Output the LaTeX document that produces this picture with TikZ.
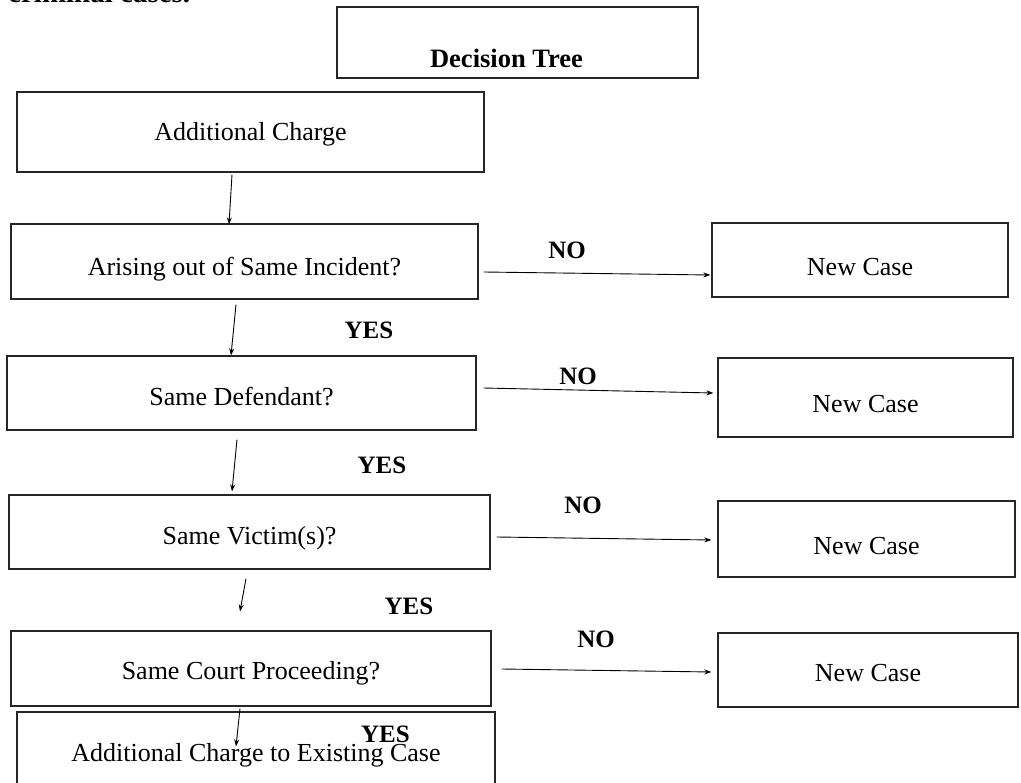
\documentclass[tikz,border=0pt]{standalone}
\usepackage{fontspec}
\setmainfont{Liberation Serif}
\usetikzlibrary{arrows.meta, positioning}

\tikzset{
  box/.style={draw=black!85, line width=1.2pt, inner sep=0pt, text depth=6pt,
    font=\fontsize{26}{31}\selectfont},
  lbl/.style={inner sep=0pt, font=\fontsize{25}{30}\selectfont\bfseries},
  conn/.style={line width=0.9pt, -{Stealth[length=7pt,width=5pt]}}
}

\begin{document}
\begin{tikzpicture}[x=1pt, y=-1pt]
	\useasboundingbox (0,0) rectangle (1021,783);
	\clip (0,0) rectangle (1021,783);
	% line of text cut off at the top
	\node[lbl, font=\fontsize{29}{34}\selectfont\bfseries, anchor=base west] (intro) at (8,3) {criminal cases.};
	% boxes
	\node[box, minimum width=361pt, minimum height=71pt, text height=56.5pt,
		font=\fontsize{26.5}{31}\selectfont\bfseries] (tree) at (517.5,42.5) {\hspace*{-22pt}Decision Tree};
	\node[box, minimum width=467pt, minimum height=80pt, text height=22.5pt] (charge) at (250.5,132) {Additional Charge};
	\node[box, minimum width=467pt, minimum height=75pt, text height=34.5pt] (incident) at (244.5,261.5) {Arising out of Same Incident?};
	\node[box, minimum width=469pt, minimum height=74pt, text height=30.5pt] (defendant) at (241.5,393) {Same Defendant?};
	\node[box, minimum width=481pt, minimum height=74pt, text height=30.5pt] (victim) at (249.5,532) {Same Victim(s)?};
	\node[box, minimum width=480pt, minimum height=75pt, text height=28.5pt] (court) at (251,668.5) {Same Court Proceeding?};
	\node[box, minimum width=478pt, minimum height=84pt, text height=20.5pt] (existing) at (256,754) {Additional Charge to Existing Case};
	\node[box, minimum width=296pt, minimum height=74pt, text height=36.5pt] (new1) at (860,260) {New Case};
	\node[box, minimum width=295pt, minimum height=79pt, text height=36.5pt] (new2) at (865.5,397.5) {New Case};
	\node[box, minimum width=297pt, minimum height=76pt, text height=36.5pt] (new3) at (866.5,539) {New Case};
	\node[box, minimum width=300pt, minimum height=74pt, text height=29.5pt] (new4) at (868,670) {New Case};
	% yes path
	\draw[conn] ([xshift=-18.5pt,yshift=-2pt]charge.south) -- ([xshift=-15.5pt,yshift=-1pt]incident.north);
	\draw[conn] ([xshift=-8.5pt,yshift=-5pt]incident.south) -- ([xshift=-10.5pt]defendant.north);
	\draw[conn] ([xshift=-4.5pt,yshift=-9pt]defendant.south) -- ([xshift=-17.5pt,yshift=3pt]victim.north);
	\draw[conn] ([xshift=-3.5pt,yshift=-9pt]victim.south) -- ([xshift=-11pt,yshift=19pt]court.north);
	\draw[conn] ([xshift=-11pt,yshift=-2pt]court.south) -- ([xshift=-20pt,yshift=-35pt]existing.north);
	% no path
	\draw[conn] ([xshift=5pt,yshift=-10.5pt]incident.east) -- ([xshift=-1pt,yshift=-15pt]new1.west);
	\draw[conn] ([xshift=7pt,yshift=5pt]defendant.east) -- ([xshift=-4pt,yshift=4.5pt]new2.west);
	\draw[conn] ([xshift=6pt,yshift=-5pt]victim.east) -- ([xshift=-6pt,yshift=-1pt]new3.west);
	\draw[conn] ([xshift=10pt,yshift=-0.5pt]court.east) -- ([xshift=-6pt,yshift=-2pt]new4.west);
	% labels
	\node[lbl] (no1) at (567,250) {NO};
	\node[lbl] (no2) at (578,376) {NO};
	\node[lbl] (no3) at (583,505) {NO};
	\node[lbl] (no4) at (596,639) {NO};
	\node[lbl] (yes1) at (369,330) {YES};
	\node[lbl] (yes2) at (382,465.5) {YES};
	\node[lbl] (yes3) at (409,606.5) {YES};
	\node[lbl] (yes4) at (385.5,734.5) {YES};
\end{tikzpicture}
\end{document}
